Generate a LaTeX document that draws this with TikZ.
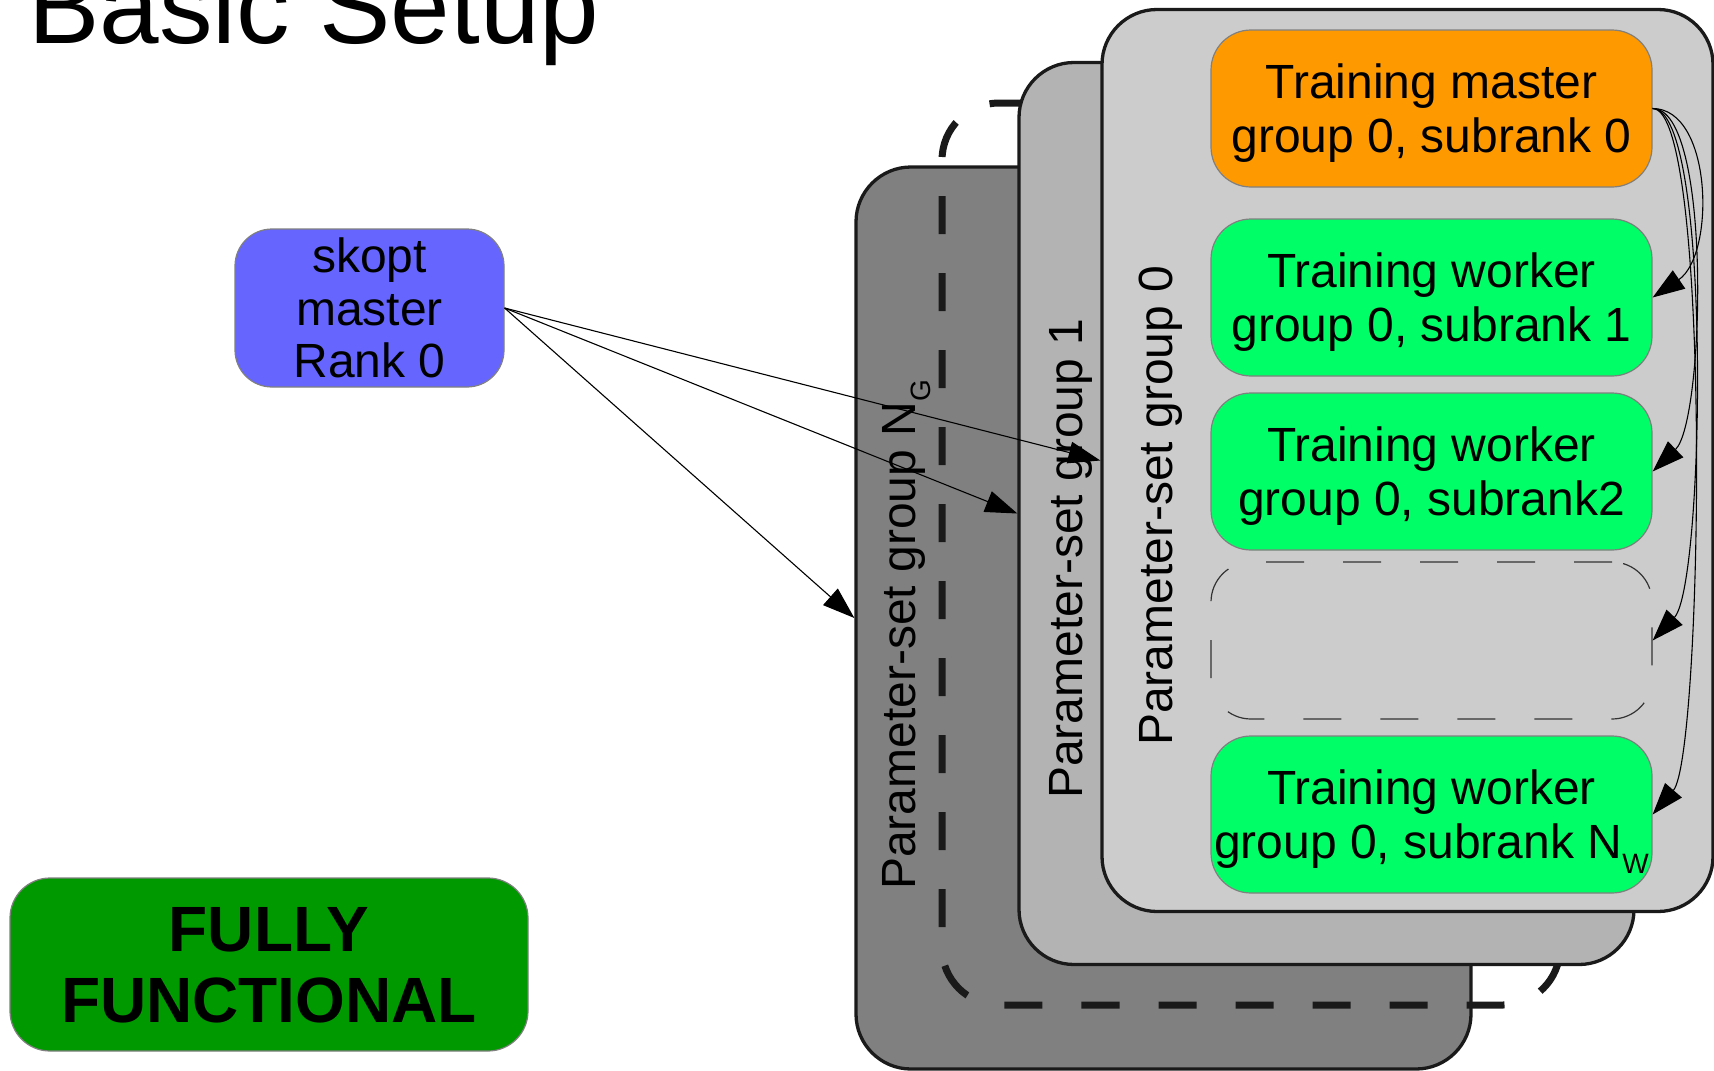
\documentclass[tikz,border=0pt]{standalone}
\usepackage{fontspec}
\setmainfont{Liberation Sans}
\usetikzlibrary{arrows.meta}

\definecolor{edgedark}{HTML}{1A1A1A}
\definecolor{boxedge}{HTML}{808080}
\definecolor{groupN}{HTML}{808080}
\definecolor{groupone}{HTML}{B3B3B3}
\definecolor{groupzero}{HTML}{CCCCCC}
\definecolor{masterorange}{HTML}{FF9900}
\definecolor{workergreen}{HTML}{00FF66}
\definecolor{skoptblue}{HTML}{6666FF}
\definecolor{statusgreen}{HTML}{009900}

% lowered subscript used in the labels
\newcommand\lowsub[1]{\raisebox{-15pt}{\fontsize{28}{28}\selectfont #1}}

\begin{document}
\begin{tikzpicture}[x=1pt,y=-1pt,
  groupbox/.style={draw=edgedark, line width=3.3pt, rounded corners=55pt,
    minimum width=615pt, minimum height=902pt, inner sep=0pt},
  moregroups/.style={edgedark, line width=7pt, dash pattern=on 38pt off 39pt,
    rounded corners=57pt},
  grouplabel/.style={rotate=90, anchor=base west, inner sep=0pt,
    font=\fontsize{48}{54}\selectfont},
  task/.style={draw=boxedge, line width=1.2pt, rounded corners=40pt,
    minimum width=441pt, minimum height=157pt, inner sep=0pt,
    align=center, text depth=0pt, font=\fontsize{48}{54}\selectfont},
  flow/.style={-{Triangle[length=32pt,width=22pt]}, line width=1.1pt, black},
]
\useasboundingbox (0,0) rectangle (1714,1071);

% heading
\node[anchor=base west, inner sep=0pt, font=\fontsize{107}{120}\selectfont]
  (title) at (28,43) {Basic Setup};

% parameter-set groups, back to front
\node[groupbox, fill=groupN] (gN) at (1163.5,618) {};
% dashed outline standing for the further groups
\coordinate (dashstart) at (942,196);
\draw[moregroups]
  (dashstart) -- (942,1005) -- (1560,1005) -- (1560,103) -- (1100,103);
\draw[moregroups, dash phase=38pt]
  (dashstart) -- (942,103) -- (1100,103);
\node[groupbox, fill=groupone] (g1) at (1326.5,513.5) {};
\node[groupbox, fill=groupzero, minimum width=611pt] (g0) at (1407.5,460.5) {};

\node[grouplabel] (lN) at (915,890) {Parameter-set group N\lowsub{G}};
\node[grouplabel] (l1) at (1082,799) {Parameter-set group 1};
\node[grouplabel] (l0) at (1172,746) {Parameter-set group 0};

% ranks inside group 0
\node[task, fill=masterorange] (m0) at (1431.5,108.5)
  {Training master\\group 0, subrank 0};
\node[task, fill=workergreen] (w1) at (1431.5,297.5)
  {Training worker\\group 0, subrank 1};
\node[task, fill=workergreen] (w2) at (1431.5,471.5)
  {Training worker\\group 0, subrank2};
\node[task, draw=black!80, dash pattern=on 38pt off 39pt] (wd) at (1431.5,640.5) {};
\node[task, fill=workergreen] (w3) at (1431.5,814.5)
  {Training worker\\group 0, subrank N\lowsub{W}};

% optimiser master
\node[draw=boxedge, line width=1.2pt, fill=skoptblue, rounded corners=37pt,
  minimum width=269pt, minimum height=158pt, inner sep=0pt, align=center,
  text depth=0pt, font=\fontsize{48}{52.5}\selectfont]
  (skopt) at (369.5,308) {skopt\\master\\Rank 0};

% status badge
\node[draw=boxedge, line width=1.2pt, fill=statusgreen, rounded corners=40pt,
  minimum width=518pt, minimum height=173pt, inner sep=0pt, align=center,
  text depth=0pt, font=\fontsize{64}{71}\bfseries\selectfont]
  (status) at (269,964.5) {FULLY\\FUNCTIONAL};

% skopt master to each group
\draw[flow] (skopt.east) -- (g0.west);
\draw[flow] (skopt.east) -- (g1.west);
\draw[flow] (skopt.east) -- (gN.west);

% training master to its workers
\draw[flow] (m0.east) .. controls +(60,0) and +(63,-43) .. (w1.east);
\draw[flow] (m0.east) .. controls +(60,0) and +(52,-50) .. (w2.east);
\draw[flow] (m0.east) .. controls +(60,0) and +(52,-55) .. (wd.east);
\draw[flow] (m0.east) .. controls +(60,0) and +(50,-58) .. (w3.east);
\end{tikzpicture}
\end{document}
